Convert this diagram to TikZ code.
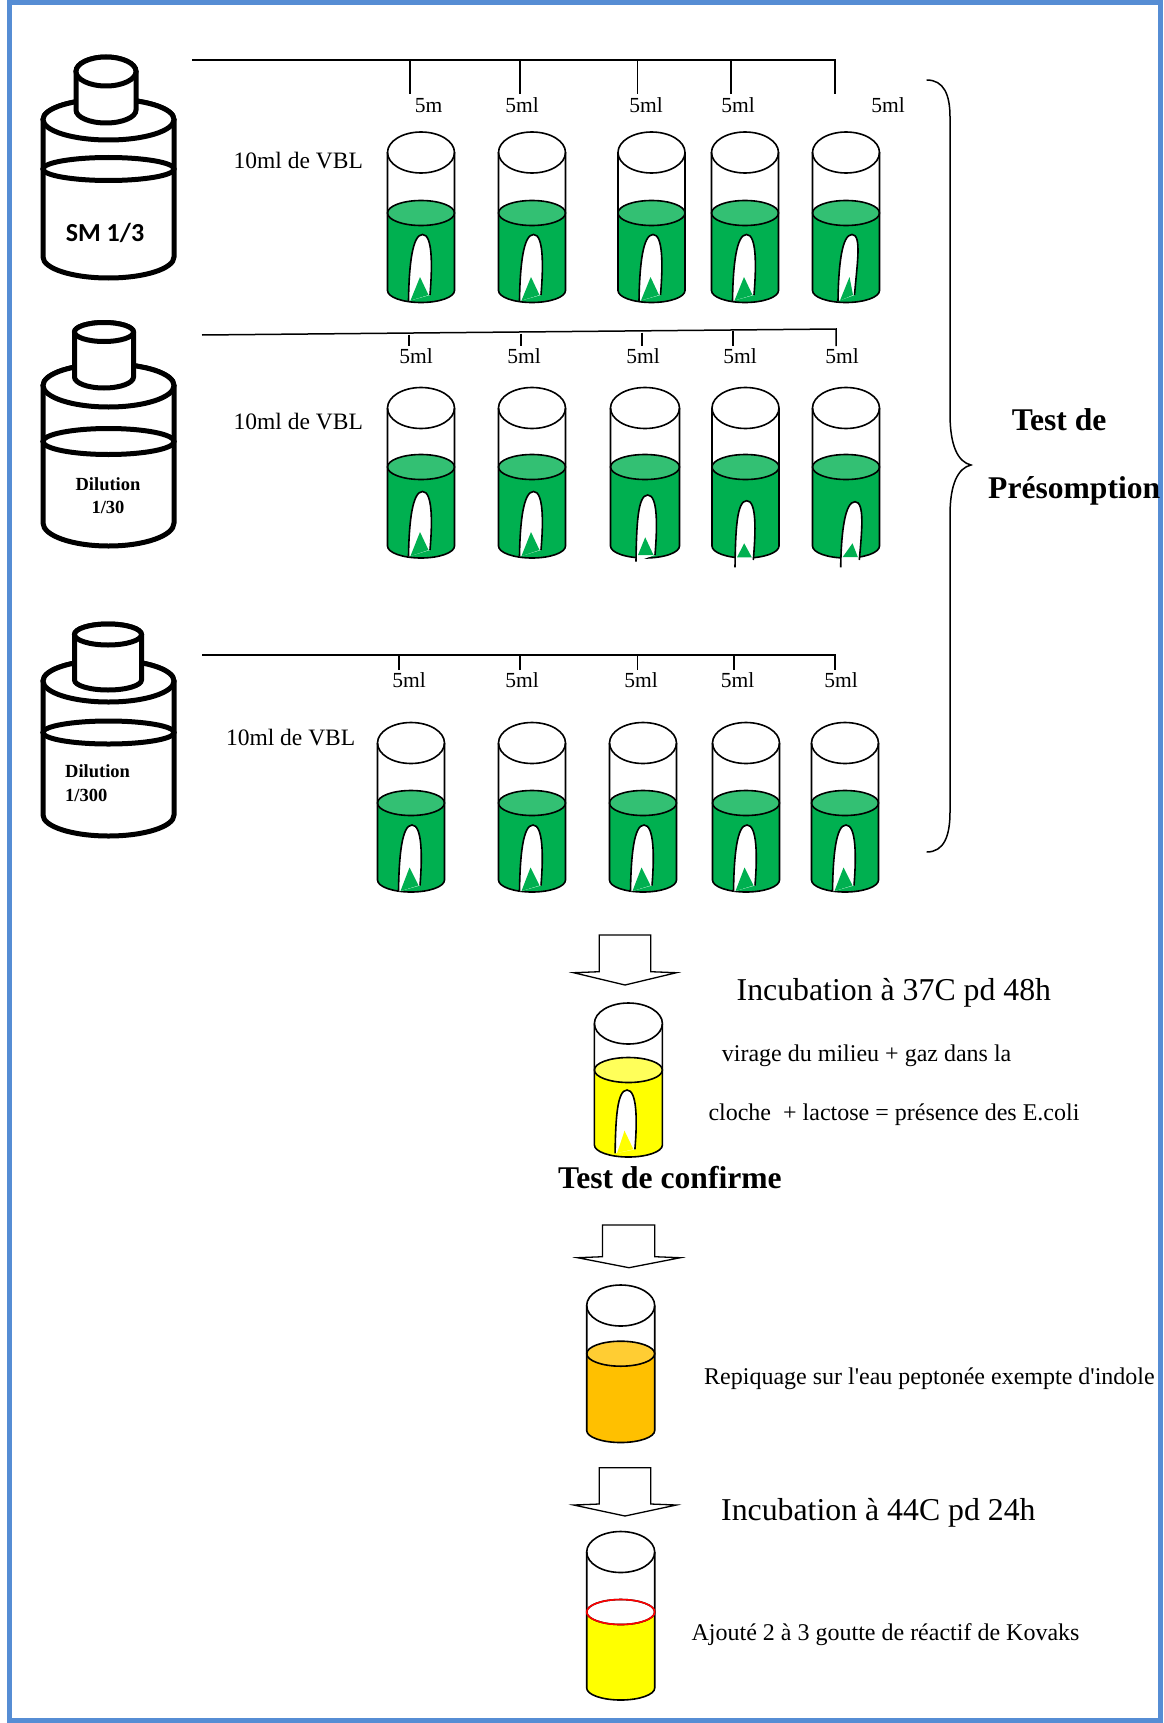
\documentclass[tikz,border=0pt]{standalone}
\usepackage{fontspec}
\setmainfont{Liberation Serif}[Ligatures=TeXOff]
\newfontfamily\calibrifont{Carlito}

\definecolor{frameblue}{RGB}{86,141,212}
\definecolor{vbl}{RGB}{0,176,80}
\definecolor{vbltop}{RGB}{51,192,115}
\definecolor{jaune}{RGB}{255,255,0}
\definecolor{jaunetop}{RGB}{255,255,90}
\definecolor{peptone}{RGB}{255,192,0}
\definecolor{peptonetop}{RGB}{255,205,51}

\newcommand\setfs[1]{\fontsize{#1}{#1}\selectfont}

% cylinder part of a flask: centre x, radius x, top y, top ry, bottom y, bottom ry
\newcommand\flaskpart[6]{%
  \filldraw[flaskline] (#1-#2,#3) -- (#1-#2,#5)
    arc[start angle=180,end angle=360,x radius=#2pt,y radius=#6pt] -- (#1+#2,#3)
    arc[start angle=0,end angle=180,x radius=#2pt,y radius=#4pt] -- cycle;
  \draw[flaskline] (#1,#3) ellipse[x radius=#2pt,y radius=#4pt];
}

% test tube: cx, top y, liquid y, bottom y, liquid colour, surface colour, radius
\newcommand\testtube[7]{%
  \fill[#5] (#1-#7,#3) -- (#1-#7,#4)
    arc[start angle=180,end angle=360,x radius=#7pt,y radius=12pt] -- (#1+#7,#3) -- cycle;
  \filldraw[tubeline,fill=#6] (#1,#3) ellipse[x radius=#7pt,y radius=12.5pt];
  \filldraw[tubeline,fill=white] (#1,#2) ellipse[x radius=#7pt,y radius=20.5pt];
  \draw[tubeline] (#1-#7,#2) -- (#1-#7,#4)
    arc[start angle=180,end angle=360,x radius=#7pt,y radius=12pt] -- (#1+#7,#2);
}

% Durham bell: apex x,y, left foot x,y, right foot x,y, gas apex y, gas base left y, gas base right y
\newcommand\durham[9]{%
  \filldraw[tubeline,fill=white] (#3,#4) .. controls (#3+0.5,#2+30) and (#1-10,#2) .. (#1,#2)
    .. controls (#1+10,#2) and (#5+2.5,#2+30) .. (#5,#6);
  \fill[cloche gas] (#3+2,#8) -- (#1-2.5,#7) -- (#5-1.5,#9) -- cycle;
}

% hollow block arrow: shaft left, shaft right, top, shaft bottom, wing left, wing right, tip y
\newcommand\blockarrow[7]{%
  \filldraw[arrowline] (#1,#3) -- (#1,#4) -- (#5,#4+1) -- ({(#5+#6)/2},#7)
    -- (#6,#4+1) -- (#2,#4) -- (#2,#3) -- cycle;
}

\begin{document}
\begin{tikzpicture}[x=1pt,y=-1pt,
  flaskline/.style={line width=5pt,draw=black,fill=white},
  tubeline/.style={line width=1.6pt,draw=black},
  arrowline/.style={line width=1.3pt,draw=black,fill=white},
  rackline/.style={line width=1.5pt},
  cloche gas/.style={fill=vbl},
  vol/.style={font=\setfs{21.5},inner sep=0pt,anchor=base},
  body/.style={font=\setfs{24},inner sep=0pt,anchor=base west},
  big/.style={font=\setfs{31.8},inner sep=0pt,anchor=base west},
  title/.style={font=\setfs{31.6}\bfseries,inner sep=0pt,anchor=base west}]

\useasboundingbox (0,0) rectangle (1163,1723);
\draw[frameblue,line width=5pt] (9,3) rectangle (1160,1720);

% ---------- flasks ----------
\flaskpart{108.5}{65.5}{119.5}{20.5}{257}{21}
\draw[flaskline,fill=none] (108.5,169) ellipse[x radius=65.5pt,y radius=11.5pt];
\flaskpart{106}{30}{71.5}{14.5}{110}{13}
\node[font=\calibrifont\setfs{26}\bfseries,inner sep=0pt,anchor=base] (sm) at (105,241) {SM 1/3};

\flaskpart{108.5}{65.5}{385.5}{21.5}{523}{23}
\draw[flaskline,fill=none] (108.5,441.5) ellipse[x radius=65.5pt,y radius=13pt];
\flaskpart{104}{29.5}{332}{9.5}{377}{11}
\node[font=\setfs{18.5}\bfseries,inner sep=0pt,anchor=base] (d30a) at (108,490) {Dilution};
\node[font=\setfs{18.5}\bfseries,inner sep=0pt,anchor=base] (d30b) at (108,513) {1/30};

\flaskpart{108.5}{65.5}{681}{21}{815}{21}
\draw[flaskline,fill=none] (108.5,732.5) ellipse[x radius=65.5pt,y radius=11.5pt];
\flaskpart{108}{33.5}{634.5}{10.5}{680}{10}
\node[font=\setfs{18.5}\bfseries,inner sep=0pt,anchor=base west] (d300a) at (65,777) {Dilution};
\node[font=\setfs{18.5}\bfseries,inner sep=0pt,anchor=base west] (d300b) at (65,801) {1/300};

% ---------- distribution racks ----------
\coordinate (r1s) at (192,60);
\coordinate (r1e) at (835,60);
\draw[rackline] (r1s) -- (r1e) -- (835,94);
\foreach \x in {410,520,637.5,731} \draw[rackline] (\x,60) -- (\x,94);

\coordinate (r2s) at (202,335);
\coordinate (r2e) at (836,329);
\draw[rackline] (r2s) -- (r2e) -- (836,346);
\foreach \x/\y in {409/334.5,521/333.5,642/332.5,733/331} \draw[rackline] (\x,\y) -- (\x,346);

\coordinate (r3s) at (202,655);
\coordinate (r3e) at (835,655);
\draw[rackline] (r3s) -- (r3e) -- (835,670);
\foreach \x in {399,520,637.5,734} \draw[rackline] (\x,655) -- (\x,670);

% volume labels
\node[vol] (v11) at (428.6,113) {5m};
\node[vol] (v12) at (522,113) {5ml};
\node[vol] (v13) at (646,113) {5ml};
\node[vol] (v14) at (738,113) {5ml};
\node[vol] (v15) at (888,113) {5ml};
\node[vol] (v21) at (416,363) {5ml};
\node[vol] (v22) at (524,363) {5ml};
\node[vol] (v23) at (643,363) {5ml};
\node[vol] (v24) at (740,363) {5ml};
\node[vol] (v25) at (842,363) {5ml};
\node[vol] (v31) at (409,687) {5ml};
\node[vol] (v32) at (522,687) {5ml};
\node[vol] (v33) at (641,687) {5ml};
\node[vol] (v34) at (737.6,687) {5ml};
\node[vol] (v35) at (841,687) {5ml};

\node[body,font=\setfs{23.5}] (vbl1) at (233.5,169) {10ml de VBL};
\node[body,font=\setfs{23.5}] (vbl2) at (233.5,429) {10ml de VBL};
\node[body,font=\setfs{23.5}] (vbl3) at (225.8,745) {10ml de VBL};

% ---------- VBL tubes, row 1 ----------
\foreach \c in {421,532,651.5,745}{
  \testtube{\c}{152.5}{213}{290.5}{vbl}{vbltop}{33.5}
  \durham{\c+1.5}{234.5}{\c-12.5}{301}{\c+9}{295}{277}{300.5}{295}
}
\testtube{846}{152.5}{213}{290.5}{vbl}{vbltop}{33.5}
\durham{852}{234.5}{838}{301}{854.5}{295}{277}{300.5}{295}

% ---------- VBL tubes, row 2 ----------
\foreach \c in {421,532}{
  \testtube{\c}{408}{467}{546}{vbl}{vbltop}{33.5}
  \durham{\c+1.5}{491.5}{\c-12.5}{556.5}{\c+9}{550}{532}{556}{550}
}
\testtube{645}{408}{467}{546}{vbl}{vbltop}{34.5}
\durham{647.7}{495}{636}{561.7}{655}{555}{537.3}{555}{555}
\testtube{745.5}{408}{467}{546}{vbl}{vbltop}{33.5}
\durham{746.7}{500.7}{735}{567.3}{753.3}{560}{543.3}{557.3}{557.3}
\testtube{846}{408}{467}{546}{vbl}{vbltop}{33.5}
\durham{855}{501.7}{840.7}{567.3}{859.3}{560}{543.3}{557}{557}

% ---------- VBL tubes, row 3 ----------
\foreach \c in {411,532,643,746,845}{
  \testtube{\c}{743}{803}{880}{vbl}{vbltop}{33.5}
  \durham{\c+1}{825}{\c-12.5}{891.5}{\c+9}{885.5}{867.5}{891}{885.5}
}

% brace grouping the three dilutions
\draw[line width=1.5pt] (926.7,80) .. controls (944,80) and (950,95) .. (950,117)
  -- (950,414) .. controls (950,446) and (958,462) .. (971,465)
  .. controls (958,468) and (950,484) .. (950,515)
  -- (950,812) .. controls (950,836) and (944,852) .. (926.7,852);
\node[title] (pres1) at (1011.7,430) {Test de};
\node[title] (pres2) at (988,498) {Présomption};

% ---------- confirmation ----------
\blockarrow{599.3}{650.7}{935}{971.7}{573.6}{676.4}{985}
\node[big] (inc37) at (736.5,1000) {Incubation à 37C pd 48h};

\begin{scope}[cloche gas/.style={fill=jaune}]
  \testtube{628.4}{1023.5}{1070}{1145}{jaune}{jaunetop}{34}
  \durham{627}{1090}{615.1}{1153.3}{634.9}{1149.3}{1130.7}{1153}{1149.3}
\end{scope}
\node[body] (vir1) at (721.7,1061.5) {virage du milieu + gaz dans la};
\node[body] (vir2) at (708.3,1120) {cloche\ \ + lactose = présence des E.coli};
\node[title] (conf) at (558,1188) {Test de confirme};

\blockarrow{602.5}{654.7}{1225}{1256.7}{577.6}{680.4}{1267.7}
\testtube{620.7}{1305.5}{1353.7}{1430.5}{peptone}{peptonetop}{34}
\node[body] (rep) at (704,1384) {Repiquage sur l'eau peptonée exempte d'indole};

\blockarrow{599.3}{650.7}{1467.7}{1504}{573.6}{676.4}{1516}
\node[big] (inc44) at (721,1520) {Incubation à 44C pd 24h};

\testtube{620.7}{1552}{1612}{1688}{jaune}{white}{34}
\draw[red,line width=1.6pt] (620.7,1612) ellipse[x radius=34pt,y radius=12.5pt];
\node[body] (kov) at (691.4,1640) {Ajouté 2 à 3 goutte de réactif de Kovaks};

\end{tikzpicture}
\end{document}
